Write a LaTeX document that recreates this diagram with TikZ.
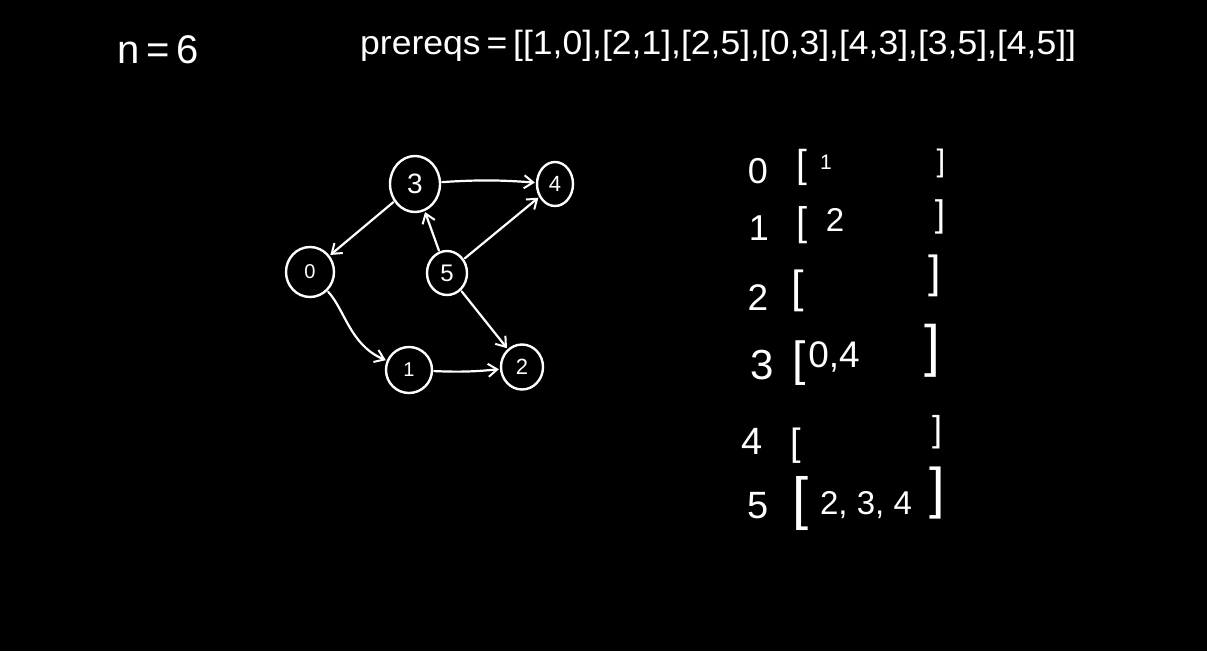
\documentclass[tikz,border=0pt]{standalone}
\usepackage{fontspec}
\usepackage{graphicx}
\setmainfont{Liberation Sans}
\usetikzlibrary{arrows.meta,shapes.geometric}
\newcommand{\fs}[1]{\fontsize{#1}{#1}\selectfont}
\begin{document}
\begin{tikzpicture}[x=1pt,y=-1pt,
  every node/.style={text=white, inner sep=0pt},
  vtx/.style={draw=white, line width=2.4pt, ellipse, inner sep=0pt},
  edge/.style={draw=white, line width=2.2pt, line cap=round, -{Straight Barb[length=9pt,width=13pt,line width=2pt]}, shorten >=1pt, shorten <=1pt},
  row/.style={anchor=center}]
\fill[black] (0,0) rectangle (1207,651);
\useasboundingbox (0,0) rectangle (1207,651);
% header
\node[font=\fs{40}] (n) at (158,50) {n\,=\,6};
\node[font=\fs{32}, anchor=west] (pre) at (360,46) {\scalebox{1.11}[1.05]{prereqs\,=\,[[1,0],[2,1],[2,5],[0,3],[4,3],[3,5],[4,5]]}};
% graph
\node[vtx, minimum width=50pt, minimum height=56pt, font=\fs{28}] (v3) at (415,184) {3};
\node[vtx, minimum width=36pt, minimum height=44pt, font=\fs{22}] (v4) at (555,184) {4};
\node[vtx, minimum width=48pt, minimum height=50pt, font=\fs{20}] (v0) at (310,272) {0};
\node[vtx, minimum width=40pt, minimum height=44pt, font=\fs{24}] (v5) at (447,273) {5};
\node[vtx, minimum width=46pt, minimum height=46pt, font=\fs{20}] (v1) at (409,370) {1};
\node[vtx, minimum width=42pt, minimum height=45pt, font=\fs{22}] (v2) at (522,367) {2};
\draw[edge] (v3) to[bend left=4] (v4);
\draw[edge] (v3) -- (v0);
\draw[edge] (v5) -- (v3);
\draw[edge] (v5) -- (v4);
\draw[edge] (v5) -- (v2);
\draw[edge] (v0) .. controls (345,310) and (350,345) .. (v1);
\draw[edge] (v1) to[bend right=4] (v2);
% adjacency list
\node[row, font=\fs{36}] (l0) at (758,171) {0};
\node[row, font=\fs{39}] (o0) at (802,167) {[};
\node[row, font=\fs{21}] (c0) at (826,162) {1};
\node[row, font=\fs{31}] (e0) at (941,163) {]};
\node[row, font=\fs{36}] (l1) at (759,228) {1};
\node[row, font=\fs{40}] (o1) at (802,225) {[};
\node[row, font=\fs{33}] (c1) at (835,220) {2};
\node[row, font=\fs{37}] (e1) at (940,217) {]};
\node[row, font=\fs{37}] (l2) at (758,298) {2};
\node[row, font=\fs{45}] (o2) at (798,291) {[};
\node[row, font=\fs{45}] (e2) at (935,276) {]};
\node[row, font=\fs{42}] (l3) at (762,365) {3};
\node[row, font=\fs{48}] (o3) at (799,363) {[};
\node[row, font=\fs{37}] (c3) at (834,357) {0,4};
\node[row, font=\fs{57}] (e3) at (932,351) {]};
\node[row, font=\fs{38}] (l4) at (752,441) {4};
\node[row, font=\fs{38}] (o4) at (796,446) {[};
\node[row, font=\fs{36}] (e4) at (937,432) {]};
\node[row, font=\fs{38}] (l5) at (758,506) {5};
\node[row, font=\fs{58}] (o5) at (801,503) {[};
\node[row, font=\fs{33}] (c5) at (866,505) {2,\;3,\;4};
\node[row, font=\fs{56}] (e5) at (937,493) {]};
\end{tikzpicture}
\end{document}
